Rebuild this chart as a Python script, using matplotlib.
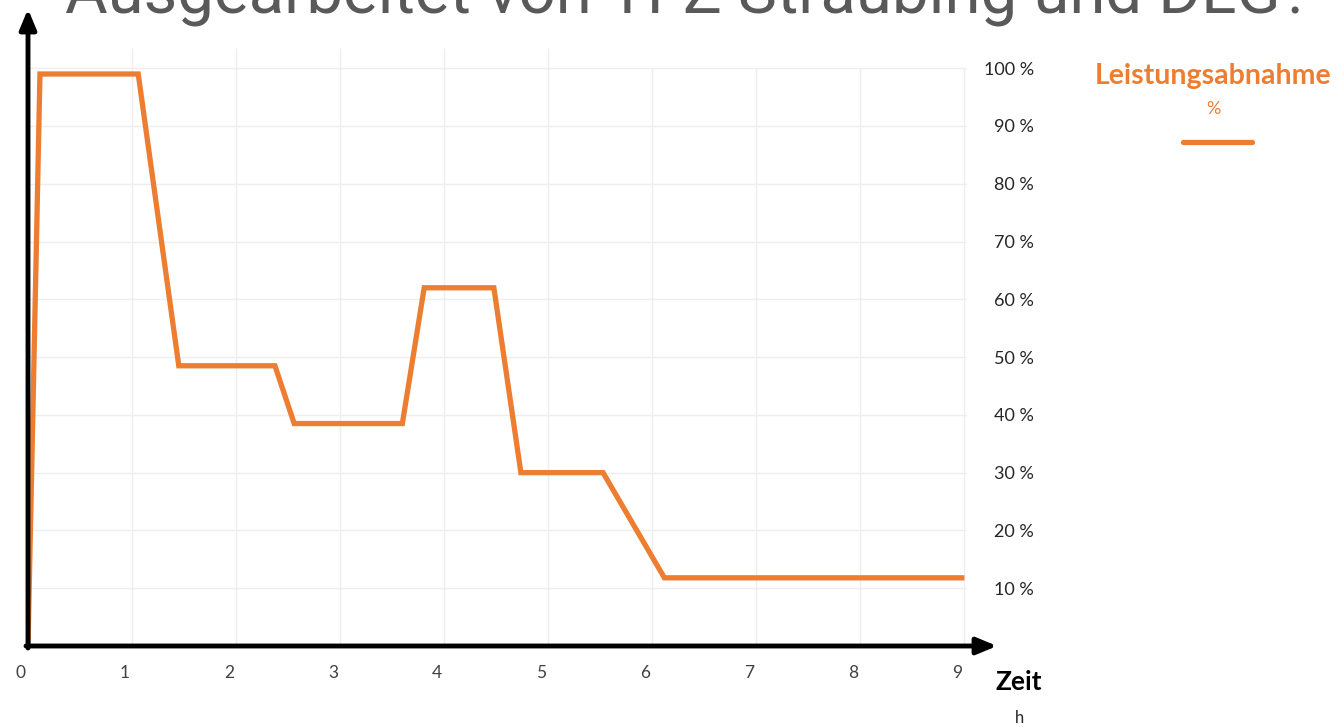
import numpy as np
import matplotlib
matplotlib.use('Agg')
import matplotlib.pyplot as plt
import matplotlib.transforms as mtransforms
from matplotlib.lines import Line2D

# Daten
zeit = [0, 0.115, 1.06, 1.45, 2.375, 2.56, 3.6, 3.81, 4.48, 4.74, 5.53, 6.12, 8.98]
leistung = [0, 99, 99, 48.5, 48.5, 38.5, 38.5, 62, 62, 30, 30, 11.8, 11.8]
xticks = list(range(10))
yticks = list(range(10, 101, 10))
ylabels = ['%d %%' % v for v in yticks]

orange = '#ED7D31'
W, H = 1339, 727

fig = plt.figure(figsize=(W / 100, H / 100), dpi=100)
ax = fig.add_axes([28 / W, 81 / H, (967 - 28) / W, (646 - 48) / H])
ax.set_xlim(0, 9.03)
ax.set_ylim(0, 103.5)
for s in ax.spines.values():
    s.set_visible(False)

# Gitter
ax.set_yticks(yticks)
ax.set_yticklabels(ylabels)
ax.grid(axis='y', color='#eeeeee', lw=1)
for x in xticks[1:]:
    ax.vlines(x, 0, 103.5 if x <= 5 else 100, color='#eeeeee', lw=1, zorder=0)

ax.plot(zeit, leistung, color=orange, lw=3.8, solid_joinstyle='miter', zorder=3)

# Achsen mit Pfeilen
ax.annotate('', xy=(997, 81), xytext=(26, 81), xycoords='figure pixels',
            textcoords='figure pixels',
            arrowprops=dict(arrowstyle='-|>,head_length=1.2,head_width=0.5', lw=3.5, color='black',
                            shrinkA=0, shrinkB=0))
ax.annotate('', xy=(28, 718), xytext=(28, 79), xycoords='figure pixels',
            textcoords='figure pixels',
            arrowprops=dict(arrowstyle='-|>,head_length=1.2,head_width=0.5', lw=3.5, color='black',
                            shrinkA=0, shrinkB=0))

# Ticks
ax.set_xticks(xticks)
ax.tick_params(axis='x', length=0, pad=14, labelsize=12.5, labelcolor='#404040')
ax.yaxis.tick_right()
ax.tick_params(axis='y', length=0, pad=48, labelsize=13, labelcolor='#262626')
for lab in ax.get_yticklabels():
    lab.set_horizontalalignment('right')
    lab.set_family('Lato')
offset = mtransforms.ScaledTranslation(-7 / 100, 0, fig.dpi_scale_trans)
for lab in ax.get_xticklabels():
    lab.set_transform(lab.get_transform() + offset)
    lab.set_family('Lato')

fig.text(1019 / W, 1 - 682 / H, 'Zeit', fontsize=19, fontweight='bold', family='Lato',
         ha='center', va='center', color='black')
fig.text(1020 / W, 1 - 718 / H, 'h', fontsize=12, family='Lato', ha='center', va='center',
         color='#262626')

# Titel (oben abgeschnitten)
fig.text(688 / W, 1 - 13 / H, 'Ausgearbeitet von TFZ Straubing und DLG?', fontsize=47,
         family='Roboto', color='#595959', ha='center', va='baseline')

# Legende
fig.text(1213 / W, 1 - 76 / H, 'Leistungsabnahme', fontsize=20.5, fontweight='bold',
         family='Lato', color=orange, ha='center', va='center')
fig.text(1213 / W, 1 - 109 / H, '%', fontsize=13, family='Lato', color=orange,
         ha='center', va='center')
fig.add_artist(Line2D([1183 / W, 1252 / W], [1 - 142 / H, 1 - 142 / H], color=orange,
                      lw=3.8, solid_capstyle='round', transform=fig.transFigure))

fig.savefig('out.png', dpi=100)
